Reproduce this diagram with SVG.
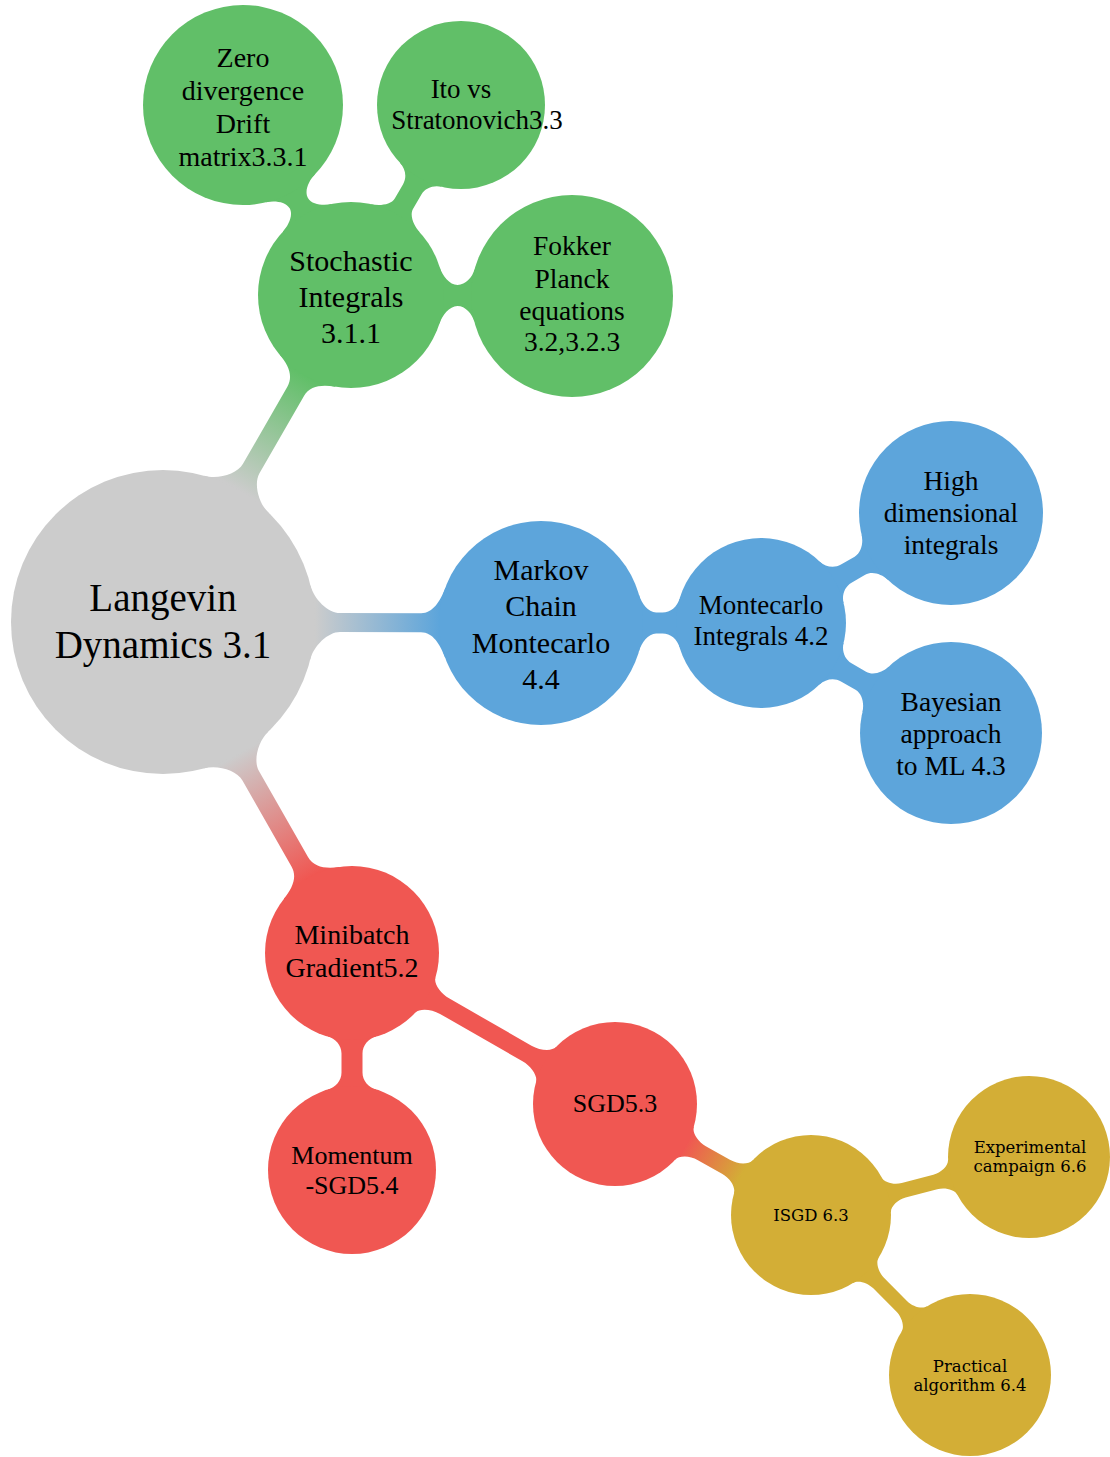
<svg xmlns="http://www.w3.org/2000/svg" width="1110" height="1457" viewBox="0 0 1110 1457">
<style>
.gray{fill:#cccccc}
.green{fill:#61bf68}
.blue{fill:#5da5db}
.red{fill:#f05752}
.yellow{fill:#d3ae36}
text{font-family:"Liberation Serif","Times New Roman",serif;fill:#000;text-anchor:middle;dominant-baseline:central}
.small{font-family:"DejaVu Serif","Liberation Serif",serif;font-size:16.5px}
</style>
<defs>
<linearGradient id="gGreen" gradientUnits="userSpaceOnUse" x1="152" y1="0" x2="284.2" y2="0"><stop offset="0" stop-color="#cccccc"/><stop offset="1" stop-color="#61bf68"/></linearGradient>
<linearGradient id="gBlue" gradientUnits="userSpaceOnUse" x1="152" y1="0" x2="276" y2="0"><stop offset="0" stop-color="#cccccc"/><stop offset="1" stop-color="#5da5db"/></linearGradient>
<linearGradient id="gRed" gradientUnits="userSpaceOnUse" x1="152" y1="0" x2="294.2" y2="0"><stop offset="0" stop-color="#cccccc"/><stop offset="1" stop-color="#f05752"/></linearGradient>
<linearGradient id="gOrange" gradientUnits="userSpaceOnUse" x1="82" y1="0" x2="145.2" y2="0"><stop offset="0" stop-color="#f05752"/><stop offset="1" stop-color="#d3ae36"/></linearGradient>
</defs>
<g id="connectors">
<path fill="url(#gGreen)" transform="translate(163,622) rotate(-60.1)" d="M0,0 L147.4,-37 C150.8,-23.4 165,-9.5 177,-9.5 L266,-9.5 C278,-9.5 285.1,-18.9 289.9,-32 L377.2,0 L289.9,32 C285.1,18.9 278,9.5 266,9.5 L177,9.5 C165,9.5 150.8,23.4 147.4,37 Z"/>
<path fill="url(#gBlue)" transform="translate(163,622) rotate(0.15)" d="M0,0 L147.4,-37 C150.8,-23.4 165,-9.5 177,-9.5 L258,-9.5 C270,-9.5 277.4,-21.8 282.2,-35 L378,0 L282.2,35 C277.4,21.8 270,9.5 258,9.5 L177,9.5 C165,9.5 150.8,23.4 147.4,37 Z"/>
<path fill="url(#gRed)" transform="translate(163,622) rotate(60.3)" d="M0,0 L147.4,-37 C150.8,-23.4 165,-9.5 177,-9.5 L276,-9.5 C288,-9.5 295.1,-19 300.3,-32 L381.2,0 L300.3,32 C295.1,19 288,9.5 276,9.5 L177,9.5 C165,9.5 150.8,23.4 147.4,37 Z"/>
<path class="green" transform="translate(351,295) rotate(-119.6)" d="M0,0 L88.7,-28 C91.1,-20.4 97.7,-10.5 105.7,-10.5 C113.7,-10.5 120.4,-20.3 122.6,-28 L218.6,0 L122.6,28 C120.4,20.3 113.7,10.5 105.7,10.5 C97.7,10.5 91.1,20.4 88.7,28 Z"/>
<path class="green" transform="translate(351,295) rotate(-59.9)" d="M0,0 L88.7,-28 C91.1,-20.4 97.7,-10.5 105.7,-10.5 L122,-10.5 C130,-10.5 136.7,-16.3 139,-24 L219.5,0 L139,24 C136.7,16.3 130,10.5 122,10.5 L105.7,10.5 C97.7,10.5 91.1,20.4 88.7,28 Z"/>
<path class="green" transform="translate(351,295) rotate(0.26)" d="M0,0 L88.7,-28 C91.1,-20.4 98.5,-10.5 106.5,-10.5 C114.5,-10.5 121.3,-18.3 123.4,-26 L221,0 L123.4,26 C121.3,18.3 114.5,10.5 106.5,10.5 C98.5,10.5 91.1,20.4 88.7,28 Z"/>
<path class="blue" transform="translate(541,623)" d="M0,0 L98.1,-28 C100.3,-20.3 107.1,-10.5 115.1,-10.5 L121.5,-10.5 C129.5,-10.5 136.2,-16.3 138.5,-24 L220,0 L138.5,24 C136.2,16.3 129.5,10.5 121.5,10.5 L115.1,10.5 C107.1,10.5 100.3,20.3 98.1,28 Z"/>
<path class="blue" transform="translate(761,623) rotate(-30.07)" d="M0,0 L81.5,-24 C83.8,-16.3 90.5,-10.5 98.5,-10.5 L114.3,-10.5 C122.3,-10.5 129,-18.3 131.3,-26 L219.5,0 L131.3,26 C129,18.3 122.3,10.5 114.3,10.5 L98.5,10.5 C90.5,10.5 83.8,16.3 81.5,24 Z"/>
<path class="blue" transform="translate(761,623) rotate(30.07)" d="M0,0 L81.5,-24 C83.8,-16.3 90.5,-10.5 98.5,-10.5 L115.3,-10.5 C123.3,-10.5 130,-18.3 132.3,-26 L219.5,0 L132.3,26 C130,18.3 123.3,10.5 115.3,10.5 L98.5,10.5 C90.5,10.5 83.8,16.3 81.5,24 Z"/>
<path class="red" transform="translate(352,953) rotate(90)" d="M0,0 L83.6,-24 C85.8,-16.3 92.6,-10.5 100.6,-10.5 L119.5,-10.5 C127.5,-10.5 134.2,-16.3 136.5,-24 L217,0 L136.5,24 C134.2,16.3 127.5,10.5 119.5,10.5 L100.6,10.5 C92.6,10.5 85.8,16.3 83.6,24 Z"/>
<path class="red" transform="translate(352,953) rotate(29.86)" d="M0,0 L84.7,-20 C86.1,-14.2 96.7,-9 106.7,-9 L201.8,-9 C211.8,-9 222.3,-14.2 223.8,-20 L303.3,0 L223.8,20 C222.3,14.2 211.8,9 201.8,9 L106.7,9 C96.7,9 86.1,14.2 84.7,20 Z"/>
<path fill="url(#gOrange)" transform="translate(615,1104) rotate(29.52)" d="M0,0 L79.8,-19 C81.2,-13.2 90,-8 99.8,-8 L127.5,-8 C137.5,-8 146.1,-13.2 147.5,-19 L225.2,0 L147.5,19 C146.1,13.2 137.5,8 127.5,8 L99.8,8 C90,8 81.2,13.2 79.8,19 Z"/>
<path class="yellow" transform="translate(811,1215) rotate(-14.9)" d="M0,0 L77.9,-18 C79.3,-12.2 87.9,-7.5 95.9,-7.5 L128.6,-7.5 C136.6,-7.5 145.3,-12.2 146.6,-18 L225.6,0 L146.6,18 C145.3,12.2 136.6,7.5 128.6,7.5 L95.9,7.5 C87.9,7.5 79.3,12.2 77.9,18 Z"/>
<path class="yellow" transform="translate(811,1215) rotate(45.18)" d="M0,0 L77.9,-18 C79.3,-12.2 87.9,-7.5 95.9,-7.5 L128.6,-7.5 C136.6,-7.5 145.3,-12.2 146.6,-18 L225.6,0 L146.6,18 C145.3,12.2 136.6,7.5 128.6,7.5 L95.9,7.5 C87.9,7.5 79.3,12.2 77.9,18 Z"/>
</g>
<g id="root">
<circle class="gray" cx="163" cy="622" r="152"/>
<text x="163" y="597" font-size="39">Langevin</text>
<text x="163" y="644" font-size="39">Dynamics 3.1</text>
</g>
<g id="stochastic">
<circle class="green" cx="351" cy="295" r="93"/>
<text x="351" y="260" font-size="30">Stochastic</text>
<text x="351" y="296" font-size="30">Integrals</text>
<text x="351" y="332" font-size="30">3.1.1</text>
</g>
<g id="zero">
<circle class="green" cx="243" cy="105" r="100"/>
<text x="243" y="57" font-size="28">Zero</text>
<text x="243" y="90" font-size="28">divergence</text>
<text x="243" y="123" font-size="28">Drift</text>
<text x="243" y="156" font-size="28">matrix3.3.1</text>
</g>
<g id="ito">
<circle class="green" cx="461" cy="105" r="84"/>
<text x="461" y="89" font-size="27">Ito vs</text>
<text x="477" y="120" font-size="27">Stratonovich3.3</text>
</g>
<g id="fokker">
<circle class="green" cx="572" cy="296" r="101"/>
<text x="572" y="245" font-size="27.5">Fokker</text>
<text x="572" y="278" font-size="27.5">Planck</text>
<text x="572" y="310" font-size="27.5">equations</text>
<text x="572" y="341" font-size="27.5">3.2,3.2.3</text>
</g>
<g id="mcmc">
<circle class="blue" cx="541" cy="623" r="102"/>
<text x="541" y="569" font-size="30">Markov</text>
<text x="541" y="605" font-size="30">Chain</text>
<text x="541" y="642" font-size="30">Montecarlo</text>
<text x="541" y="678" font-size="30">4.4</text>
</g>
<g id="montecarlo-integrals">
<circle class="blue" cx="761" cy="623" r="85"/>
<text x="761" y="605" font-size="27">Montecarlo</text>
<text x="761" y="636" font-size="27">Integrals 4.2</text>
</g>
<g id="high-dimensional">
<circle class="blue" cx="951" cy="513" r="92"/>
<text x="951" y="480" font-size="27.5">High</text>
<text x="951" y="512" font-size="27.5">dimensional</text>
<text x="951" y="544" font-size="27.5">integrals</text>
</g>
<g id="bayesian">
<circle class="blue" cx="951" cy="733" r="91"/>
<text x="951" y="701" font-size="27.5">Bayesian</text>
<text x="951" y="733" font-size="27.5">approach</text>
<text x="951" y="765" font-size="27.5">to ML 4.3</text>
</g>
<g id="minibatch">
<circle class="red" cx="352" cy="953" r="87"/>
<text x="352" y="934" font-size="28">Minibatch</text>
<text x="352" y="967" font-size="28">Gradient5.2</text>
</g>
<g id="momentum">
<circle class="red" cx="352" cy="1170" r="84"/>
<text x="352" y="1155" font-size="26">Momentum</text>
<text x="352" y="1185" font-size="26">-SGD5.4</text>
</g>
<g id="sgd">
<circle class="red" cx="615" cy="1104" r="82"/>
<text x="615" y="1103" font-size="26">SGD5.3</text>
</g>
<g id="isgd">
<circle class="yellow" cx="811" cy="1215" r="80"/>
<text class="small" x="811" y="1215">ISGD 6.3</text>
</g>
<g id="experimental">
<circle class="yellow" cx="1029" cy="1157" r="81"/>
<text class="small" x="1030" y="1147">Experimental</text>
<text class="small" x="1030" y="1166">campaign 6.6</text>
</g>
<g id="practical">
<circle class="yellow" cx="970" cy="1375" r="81"/>
<text class="small" x="970" y="1366">Practical</text>
<text class="small" x="970" y="1385">algorithm 6.4</text>
</g>
</svg>
